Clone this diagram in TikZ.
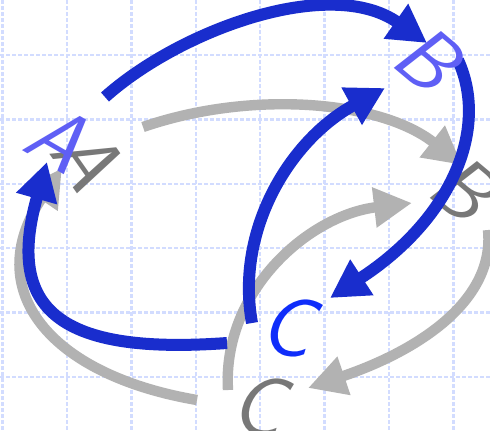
\documentclass[tikz,border=0pt]{standalone}
\usepackage{fontspec}
\usetikzlibrary{arrows.meta}

\definecolor{gridblue}{RGB}{210,220,255}
\definecolor{arrblue}{RGB}{25,45,205}
\definecolor{letblue}{RGB}{95,95,245}
\definecolor{cblue}{RGB}{15,45,250}
\definecolor{arrgrey}{RGB}{178,178,178}
\definecolor{letgrey}{RGB}{120,120,120}

\begin{document}
\begin{tikzpicture}[x=0.025cm,y=-0.025cm]
\tikzset{g/.style={gridblue,line width=0.06cm,dash pattern=on 0.1cm off 0.05cm},
  blu/.style={arrblue,line width=0.3cm,-{Triangle[length=0.95cm,width=1cm]}},
  gry/.style={arrgrey,line width=0.26cm,-{Triangle[length=0.95cm,width=0.95cm]}},
  let/.style={font=\fontsize{60}{64}\selectfont\sffamily\itshape,inner sep=0pt}}

\useasboundingbox (0,0) rectangle (490,430);
\fill[white] (0,0) rectangle (490,430);

% grid
\foreach \i in {0,...,7}
  \draw[g] ({2.5+64.4*\i},0) -- ({2.5+64.4*\i},430);
\foreach \j in {0,...,5}
  \draw[g] (0,{55+64.4*\j}) -- (490,{55+64.4*\j});

% grey copy
\node[let,letgrey,rotate=-55] (ga) at (88,157) {A};
\node[let,letgrey,rotate=-40] (gb) at (464,188) {B};
\node[let,letgrey,rotate=-10] (gc) at (258,405) {C};

\coordinate (gab0) at (143,127);
\coordinate (gab1) at (462,165);
\coordinate (gbc0) at (488,230);
\coordinate (gbc1) at (308,388);
\coordinate (gca0) at (197,400);
\coordinate (gca1) at (62,168);
\coordinate (gcb0) at (228,390);
\coordinate (gcb1) at (412,203);

\draw[gry] (gab0) .. controls (250,90) and (380,100) .. (gab1);
\draw[gry] (gbc0) .. controls (495,300) and (420,350) .. (gbc1);
\draw[gry] (gca0) .. controls (50,375) and (-20,290) .. (gca1);
\draw[gry] (gcb0) .. controls (222,290) and (310,215) .. (gcb1);

% blue
\coordinate (ab0) at (105,97);
\coordinate (ab1) at (427,43);
\coordinate (bc0) at (458,60);
\coordinate (bc1) at (330,298);
\coordinate (ca0) at (227,343);
\coordinate (ca1) at (47,162);
\coordinate (cb0) at (252,323);
\coordinate (cb1) at (385,88);

\draw[blu] (ab0) .. controls (180,30) and (330,-25) .. (ab1);
\draw[blu] (bc0) .. controls (490,130) and (450,220) .. (bc1);
\draw[blu] (ca0) .. controls (60,355) and (5,310) .. (ca1);
\draw[blu] (cb0) .. controls (235,230) and (290,140) .. (cb1);

\node[let,letblue,rotate=-30] (a) at (58,137) {A};
\node[let,letblue,rotate=-40] (b) at (428,58) {B};
\node[let,cblue,rotate=-10] (c) at (287,326) {C};

\end{tikzpicture}
\end{document}
